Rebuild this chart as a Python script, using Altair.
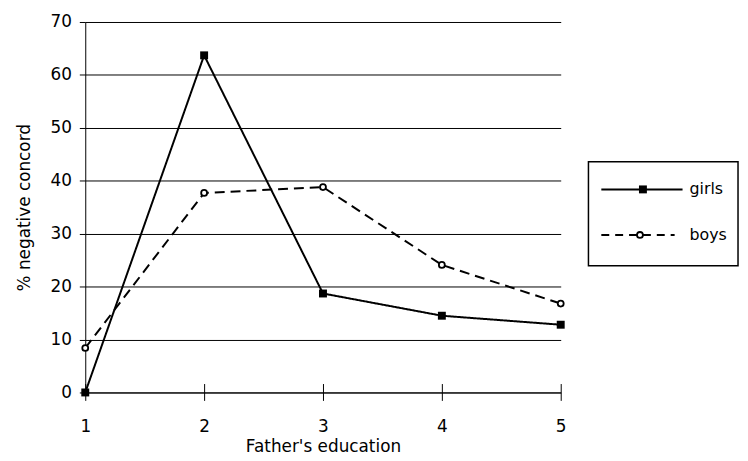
import altair as alt
import pandas as pd

# ---- data ----
education = [1, 2, 3, 4, 5]
girls = [0.0, 63.7, 18.7, 14.5, 12.8]
boys = [8.4, 37.7, 38.8, 24.1, 16.8]
series_names = ["girls", "boys"]
y_ticks = [0, 10, 20, 30, 40, 50, 60, 70]
x_ticks = [1, 2, 3, 4, 5]

df = pd.DataFrame({
    "edu": education * 2,
    "pct": girls + boys,
    "series": ["girls"] * len(education) + ["boys"] * len(education),
})
legend_df = pd.DataFrame({"label": series_names})

FONT = "DejaVu Sans"

x_scale = alt.Scale(domain=[1, 5], nice=False, zero=False)
y_scale = alt.Scale(domain=[0, 70], nice=False, zero=True)

y_axis = alt.Axis(values=y_ticks, title="% negative concord", grid=True,
                  gridColor="black", gridOpacity=1, gridWidth=1,
                  domainColor="black", tickColor="black", tickSize=6,
                  labelPadding=8, titlePadding=17)
y_enc = alt.Y("pct:Q", scale=y_scale, axis=y_axis)

main_x_axis = alt.Axis(values=x_ticks, format="d", title="Father's education",
                       grid=False, domainColor="black", tickColor="black",
                       tickSize=8, labelPadding=18, labelFlush=False,
                       titleBaseline="alphabetic", titleY=60)
inner_x_axis = alt.Axis(values=x_ticks, orient="bottom", offset=-9, grid=False,
                        domain=False, labels=False, title=None,
                        tickColor="black", tickSize=9)

base = alt.Chart(df)

lines = base.mark_line(color="black", strokeWidth=2).encode(
    x=alt.X("edu:Q", scale=x_scale, axis=main_x_axis),
    y=y_enc,
    strokeDash=alt.StrokeDash("series:N",
                              scale=alt.Scale(domain=series_names, range=[[1, 0], [10, 6]]),
                              legend=None),
)

girl_pts = base.transform_filter(alt.datum.series == "girls").mark_point(
    shape="square", filled=True, color="black", size=64, opacity=1
).encode(
    x=alt.X("edu:Q", scale=x_scale, axis=inner_x_axis),
    y=y_enc,
)

boy_pts = base.transform_filter(alt.datum.series == "boys").mark_point(
    shape="circle", fill="white", stroke="black", strokeWidth=1.8, size=36, opacity=1, filled=False
).encode(
    x=alt.X("edu:Q", scale=x_scale, axis=None),
    y=y_enc,
)

# ---- legend box (layout in pixels, relative to the plot area) ----
LX0, LX1, LY0, LY1 = 508, 659, 141, 246
ROW_Y = {"girls": 169, "boys": 215}
SYM_X0, SYM_X1, MARK_X, TEXT_X = 521, 603, 562, 610

lbase = alt.Chart(legend_df)
legend_box = lbase.transform_filter(alt.datum.label == "girls").mark_rect(
    fill="white", stroke="black", strokeWidth=1.5
).encode(x=alt.value(LX0), x2=alt.value(LX1), y=alt.value(LY0), y2=alt.value(LY1))

legend_layers = [legend_box]
for name in series_names:
    sel = lbase.transform_filter(alt.datum.label == name)
    yv = ROW_Y[name]
    if name == "girls":
        rule = sel.mark_rule(color="black", strokeWidth=2).encode(
            x=alt.value(SYM_X0), x2=alt.value(SYM_X1), y=alt.value(yv))
        mark = sel.mark_point(shape="square", filled=True, color="black", size=64, opacity=1).encode(
            x=alt.value(MARK_X + 1), y=alt.value(yv))
    else:
        rule = sel.mark_rule(color="black", strokeWidth=2, strokeDash=[8, 6]).encode(
            x=alt.value(SYM_X0), x2=alt.value(SYM_X1 - 8), y=alt.value(yv))
        mark = sel.mark_point(shape="circle", fill="white", stroke="black", strokeWidth=1.8,
                              size=36, opacity=1, filled=False).encode(
            x=alt.value(MARK_X - 2), y=alt.value(yv))
    text = sel.mark_text(align="left", baseline="middle", font=FONT, fontSize=16,
                         color="black").encode(
        x=alt.value(TEXT_X), y=alt.value(yv), text="label:N")
    legend_layers += [rule, mark, text]

chart = alt.layer(lines, girl_pts, boy_pts, *legend_layers).resolve_axis(
    x="independent"
).properties(
    width=480,
    height=374,
    padding={"left": 78, "top": 12, "right": 181, "bottom": 61},
    autosize=alt.AutoSizeParams(type="none"),
    background="white",
).configure_view(
    stroke=None
).configure_axis(
    labelFont=FONT, labelFontSize=17, labelColor="black",
    titleFont=FONT, titleFontSize=17, titleColor="black", titleFontWeight="normal",
)

chart.save("out.html", embed_options={"renderer": "svg", "actions": False})
